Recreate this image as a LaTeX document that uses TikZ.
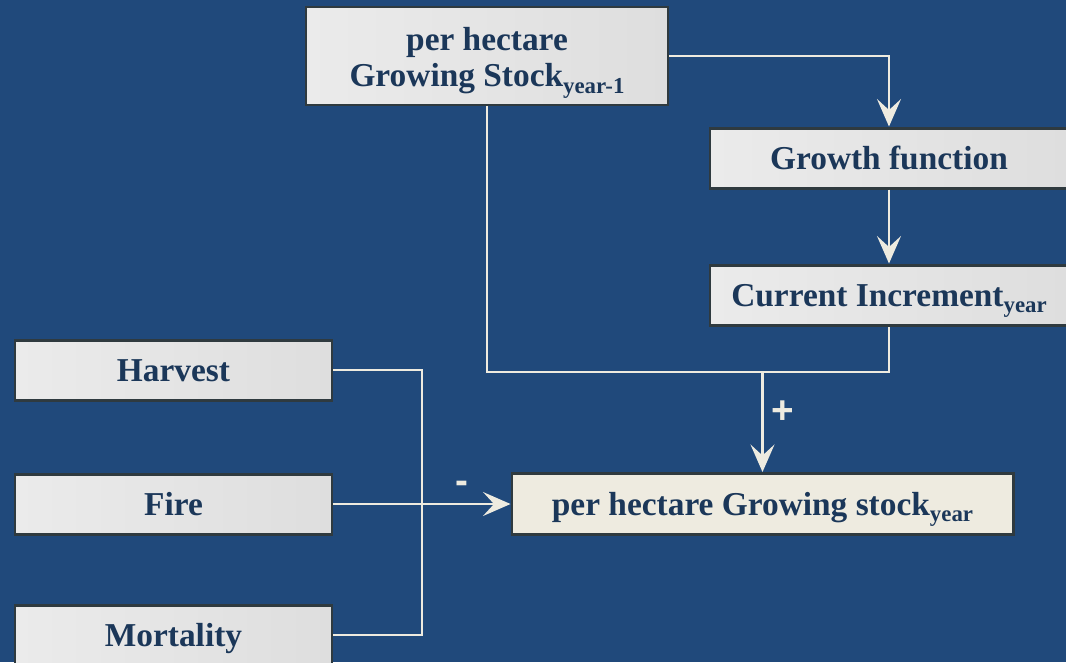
\documentclass[tikz,border=0pt]{standalone}
\usepackage{fontspec}
\setmainfont{Liberation Serif}
\newfontfamily\signfont{Liberation Sans}
\usetikzlibrary{positioning,arrows.meta}

\definecolor{bgblue}{HTML}{20497B}
\definecolor{boxedge}{HTML}{2F3A3F}
\definecolor{boxlight}{HTML}{EBEBEB}
\definecolor{boxdark}{HTML}{DEDEDE}
\definecolor{cream}{HTML}{EEEBE0}
\definecolor{navytext}{HTML}{1B3759}

\newcommand{\lowsub}[1]{\raisebox{-0.45ex}{\fontsize{13}{14}\selectfont #1}}

\begin{document}
\begin{tikzpicture}[>={Stealth[length=0.55cm, width=0.48cm, inset=0.22cm]},
  every node/.style={font=\fontsize{19}{20.5}\selectfont\bfseries, text=navytext},
  box/.style={draw=boxedge, line width=1.7pt, left color=boxlight, right color=boxdark, minimum height=1.2cm, align=center},
  oneline/.style={text height=16pt, text depth=3.4pt},
  link/.style={draw=cream, line width=1.3pt},
  sign/.style={font=\signfont\fontsize{22}{24}\selectfont\bfseries, text=cream}]
  \useasboundingbox[fill=bgblue] (0,0) rectangle (21.32,-13.24);

  % stock of last year and growth chain
  \node[box, minimum width=7.24cm, minimum height=1.96cm] (prev) at (9.74,-1.12) {\rule{0pt}{21pt}per hectare\\Growing Stock\lowsub{year-1}};
  \node[box, oneline, minimum width=7.16cm] (growth) at (17.78,-3.16) {Growth function};
  \node[box, oneline, minimum width=7.16cm] (incr) at (17.78,-5.9) {Current Increment\lowsub{year}};

  % losses
  \node[box, oneline, minimum width=6.34cm] (harvest) at (3.47,-7.4) {Harvest};
  \node[box, oneline, minimum width=6.34cm] (fire) at (3.47,-10.08) {Fire};
  \node[box, oneline, minimum width=6.34cm] (mort) at (3.47,-12.7) {Mortality};

  \node[box, oneline, left color=cream, right color=cream, minimum width=10.02cm, minimum height=1.22cm] (stock) at (15.25,-10.08) {per hectare Growing stock\lowsub{year}};

  \coordinate (merge) at (15.25,-7.44);
  \coordinate (sum) at (8.44,-10.08);

  \draw[link, ->] (prev.east) -| (growth.north);
  \draw[link, ->] (growth) -- (incr);
  \draw[link] (prev.south) |- (merge) -| (incr.south);
  \draw[link, ->] (merge) -- node[sign, right=1pt, pos=0.4] {+} (stock.north);

  \draw[link] (harvest.east) -| (sum) |- (mort.east);
  \draw[link] (fire.east) -- (sum);
  \draw[link, ->] (sum) -- node[sign, above=2pt, pos=0.45] {-} (stock.west);
\end{tikzpicture}
\end{document}
